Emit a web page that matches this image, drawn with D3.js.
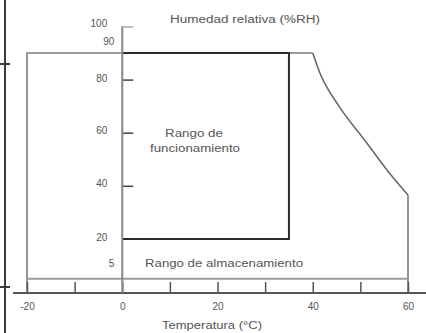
<!DOCTYPE html>
<html><head><meta charset="utf-8">
<script src="https://cdn.jsdelivr.net/npm/d3@7"></script>
<style>
html,body{margin:0;padding:0;background:#fff;}
svg{display:block;}
text{font-family:"Liberation Sans",Arial,sans-serif;fill:#555;}
</style></head>
<body>
<svg id="c" width="426" height="333"></svg>
<script>
// ---- data ----
const xTicks = [-20, -10, 0, 10, 20, 30, 40, 50, 60];
const xTickLabels = ["-20", "", "0", "", "20", "", "40", "", "60"];
const yTicks = [100, 90, 80, 60, 40, 20, 5];
const yTickLabels = ["100", "90", "80", "60", "40", "20", "5"];
// storage range: temperature / RH outline (upper boundary)
const storageTemp = [-20, 40, 41.5, 45.5, 51, 56, 60];
const storageRH   = [90, 90, 82.5, 70, 57, 45, 36.5];
const storageMinRH = 5;
// operating range
const operTemp = [0, 35];
const operRH = [20, 90];
const title = "Humedad relativa (%RH)";
const xTitle = "Temperatura (°C)";
const operLabel = ["Rango de", "funcionamiento"];
const storageLabel = "Rango de almacenamiento";

// ---- drawing ----
const svg = d3.select("#c");
const x = d3.scaleLinear().domain([-20, 60]).range([27, 408]);
const y = d3.scaleLinear().domain([0, 100]).range([292, 26.5]);

// stray frame line at far left
svg.append("line").attr("x1",5).attr("x2",5).attr("y1",0).attr("y2",333)
  .attr("stroke","#3a3a3a").attr("stroke-width",2);
[64, 287].forEach(v => svg.append("line").attr("x1",0).attr("x2",10).attr("y1",v).attr("y2",v)
  .attr("stroke","#3a3a3a").attr("stroke-width",2));

// storage outline
const line = d3.line().x(d => x(d[0])).y(d => y(d[1]));
const curveLine = d3.line().x(d => x(d[0])).y(d => y(d[1])).curve(d3.curveMonotoneX);
const storagePts = storageTemp.map((t,i)=>[t, storageRH[i]]);
const flatPts = storagePts.filter(d => d[1] === storageRH[0]);
const slopePts = storagePts.slice(flatPts.length - 1);
svg.append("path").attr("d", line([[ -20, 0 ], ...flatPts]))
  .attr("fill","none").attr("stroke","#7a7a7a").attr("stroke-width",1.6);
svg.append("path").attr("d", curveLine(slopePts))
  .attr("fill","none").attr("stroke","#6a6a6a").attr("stroke-width",1.6);
const last = storagePts[storagePts.length-1];
svg.append("path").attr("d", line([last, [last[0], 0]]))
  .attr("fill","none").attr("stroke","#7a7a7a").attr("stroke-width",1.6);
svg.append("line").attr("x1",x(-20)).attr("x2",x(60)).attr("y1",y(storageMinRH)).attr("y2",y(storageMinRH))
  .attr("stroke","#9a9a9a").attr("stroke-width",2);

// operating range (top, right, bottom)
svg.append("path").attr("d", line([[operTemp[0],operRH[1]],[operTemp[1],operRH[1]],[operTemp[1],operRH[0]],[operTemp[0],operRH[0]]]))
  .attr("fill","none").attr("stroke","#2a2a2a").attr("stroke-width",2);

// x axis
const xAxis = d3.axisBottom(x).tickValues(xTicks)
  .tickFormat((d,i)=>xTickLabels[i]).tickSizeInner(-11).tickSizeOuter(0).tickPadding(10);
const gx = svg.append("g").attr("transform",`translate(0,${y(0)+1})`).call(xAxis);
gx.select(".domain").remove();
gx.selectAll(".tick line").attr("stroke","#555").attr("stroke-width",1.5);
gx.selectAll(".tick text").attr("font-size",10).attr("fill","#666").attr("font-family","Liberation Sans, Arial, sans-serif");
svg.append("line").attr("x1",13).attr("x2",426).attr("y1",y(0)+1).attr("y2",y(0)+1)
  .attr("stroke","#555").attr("stroke-width",2);

// y axis
const yOff = {100:-4, 90:-12, 80:-2, 60:-3, 40:-2.5, 20:-2, 5:-16};
const yDx = {90:7, 5:7};
const yAxis = d3.axisLeft(y).tickValues(yTicks)
  .tickFormat((d,i)=>yTickLabels[i]).tickSizeInner(-11).tickSizeOuter(0).tickPadding(15);
const gy = svg.append("g").attr("transform",`translate(${x(0)},0)`).call(yAxis);
gy.select(".domain").remove();
gy.selectAll(".tick line").attr("stroke", d => d===100 ? "#aaa" : "#444").attr("stroke-width",1.5)
  .attr("display", d => (d===90||d===20||d===5) ? "none" : null);
gy.selectAll(".tick text").attr("font-size",10).attr("fill","#666").attr("font-family","Liberation Sans, Arial, sans-serif")
  .attr("dy", d => (yOff[d] + 3.5) + "px").attr("dx", d => (yDx[d]||0));
svg.append("line").attr("x1",x(0)).attr("x2",x(0)).attr("y1",y(100)).attr("y2",y(0)+1)
  .attr("stroke","#888").attr("stroke-width",2);

// texts
svg.append("text").attr("x",245).attr("y",23).attr("text-anchor","middle").attr("font-size",10)
  .attr("textLength",150).attr("lengthAdjust","spacingAndGlyphs").text(title);
svg.append("text").attr("x",212).attr("y",329).attr("text-anchor","middle").attr("font-size",10)
  .attr("textLength",100).attr("lengthAdjust","spacingAndGlyphs").text(xTitle);
svg.append("text").attr("x",194).attr("y",137).attr("text-anchor","middle").attr("font-size",10)
  .attr("textLength",58).attr("lengthAdjust","spacingAndGlyphs").text(operLabel[0]);
svg.append("text").attr("x",195).attr("y",152).attr("text-anchor","middle").attr("font-size",10)
  .attr("textLength",90).attr("lengthAdjust","spacingAndGlyphs").text(operLabel[1]);
svg.append("text").attr("x",224).attr("y",267).attr("text-anchor","middle").attr("font-size",10)
  .attr("textLength",158).attr("lengthAdjust","spacingAndGlyphs").text(storageLabel);
</script>
</body></html>
